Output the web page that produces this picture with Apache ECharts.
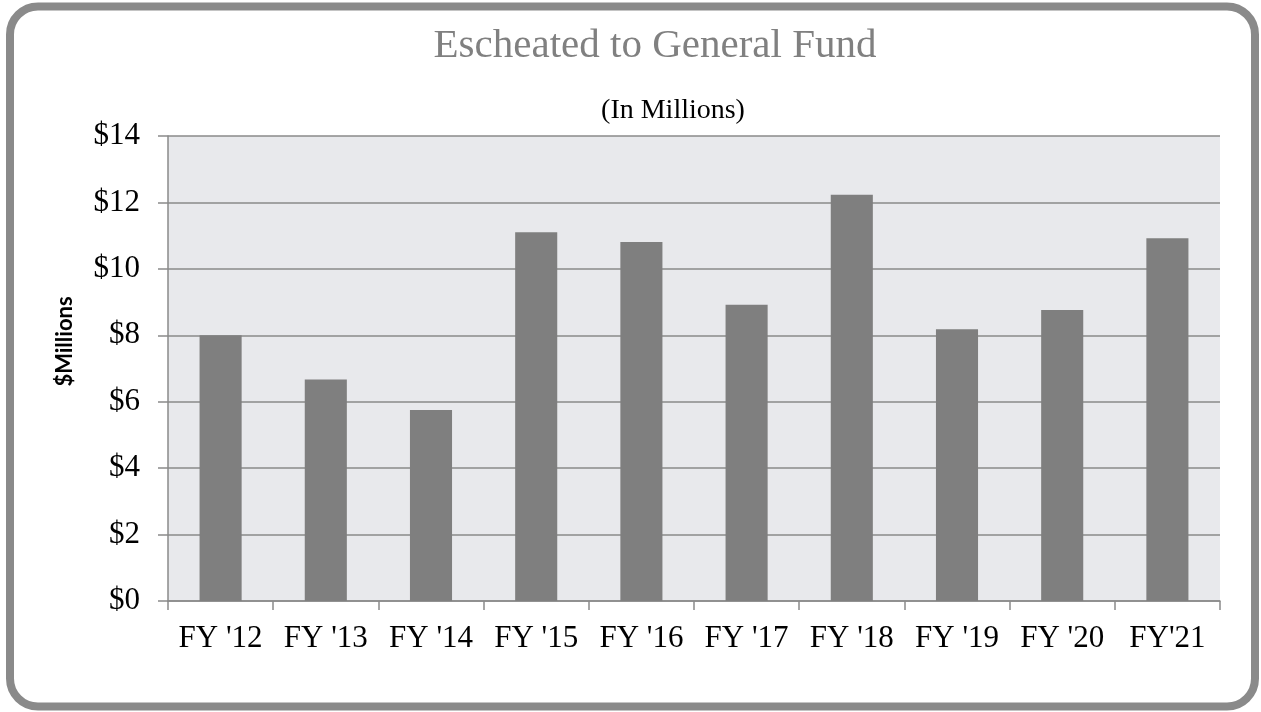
<!DOCTYPE html>
<html>
<head>
<meta charset="utf-8">
<style>
  html, body { margin: 0; padding: 0; background: #ffffff; }
  #chart { width: 1261px; height: 712px; }
</style>
<script src="https://cdn.jsdelivr.net/npm/echarts@6/dist/echarts.min.js"></script>
</head>
<body>
<div id="chart"></div>
<script>
const categories = ["FY '12", "FY '13", "FY '14", "FY '15", "FY '16", "FY '17", "FY '18", "FY '19", "FY '20", "FY'21"];
const escheated = [8.0, 6.67, 5.75, 11.1, 10.81, 8.92, 12.23, 8.18, 8.76, 10.92];
const yTicks = [0, 2, 4, 6, 8, 10, 12, 14];

const chart = echarts.init(document.getElementById('chart'));
const serif = '"Liberation Serif", "Times New Roman", serif';

chart.setOption({
  animation: false,
  backgroundColor: '#ffffff',
  title: [
    {
      text: 'Escheated to General Fund',
      left: 650, top: 21, textAlign: 'center',
      textStyle: { fontFamily: serif, fontSize: 41, fontWeight: 'normal', color: '#808080' }
    },
    {
      text: '(In Millions)',
      left: 668, top: 92, textAlign: 'center',
      textStyle: { fontFamily: serif, fontSize: 28, fontWeight: 'normal', color: '#000000' }
    }
  ],
  graphic: [
    {
      type: 'rect',
      shape: { x: 10, y: 6.5, width: 1245, height: 700, r: 28 },
      style: { fill: 'none', stroke: '#8a8a8a', lineWidth: 8 },
      z: 100
    }
  ],
  grid: {
    left: 168, right: 41, top: 136, bottom: 111,
    show: true, backgroundColor: '#e8e9ec', borderWidth: 0
  },
  xAxis: {
    type: 'category',
    data: categories,
    axisLine: { lineStyle: { color: '#8a8a8a', width: 1.5 } },
    axisTick: { show: true, length: 9, alignWithLabel: false, interval: 0, lineStyle: { color: '#8a8a8a', width: 1.5 } },
    axisLabel: { fontFamily: serif, fontSize: 31, color: '#000000', margin: 22, interval: 0 },
    splitLine: { show: false }
  },
  yAxis: {
    type: 'value',
    min: 0, max: 14, interval: 2,
    name: '$Millions',
    nameLocation: 'middle',
    nameGap: 92,
    nameRotate: 90,
    nameTextStyle: { fontFamily: 'Lato, "Open Sans", sans-serif', fontWeight: 'bold', fontSize: 22, color: '#000000', padding: [0, 0, 0, 54] },
    axisLine: { show: true, lineStyle: { color: '#8a8a8a', width: 1.5 } },
    axisTick: { show: true, length: 10, inside: false, lineStyle: { color: '#8a8a8a', width: 1.5 } },
    axisLabel: {
      fontFamily: serif, fontSize: 31, color: '#000000', margin: 28,
      formatter: function (v) { return yTicks.indexOf(v) >= 0 ? '$' + v : ''; }
    },
    splitLine: { show: true, lineStyle: { color: '#8a8a8a', width: 1.5 } }
  },
  series: [
    {
      type: 'bar',
      data: escheated,
      barCategoryGap: '60%',
      itemStyle: { color: '#7f7f7f' }
    }
  ]
});
</script>
</body>
</html>
